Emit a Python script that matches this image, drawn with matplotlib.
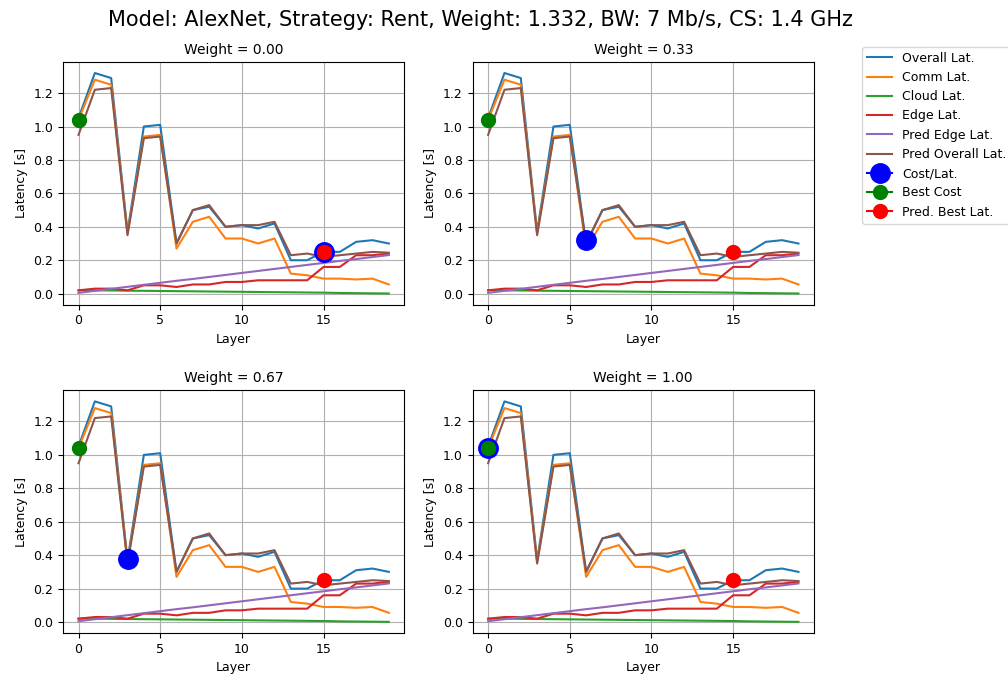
import matplotlib.pyplot as plt

# Per-layer latency profiles (AlexNet, split point = layer index)
layers = list(range(20))
overall_lat = [1.05, 1.32, 1.29, 0.37, 1.00, 1.01, 0.30, 0.50, 0.52, 0.40,
               0.41, 0.39, 0.42, 0.20, 0.20, 0.25, 0.25, 0.31, 0.32, 0.30]
comm_lat = [1.04, 1.28, 1.25, 0.36, 0.94, 0.95, 0.27, 0.43, 0.46, 0.33,
            0.33, 0.30, 0.33, 0.12, 0.11, 0.09, 0.09, 0.085, 0.09, 0.055]
cloud_lat = [0.020, 0.020, 0.019, 0.018, 0.017, 0.016, 0.015, 0.014, 0.013, 0.012,
             0.011, 0.010, 0.009, 0.008, 0.007, 0.006, 0.004, 0.003, 0.002, 0.001]
edge_lat = [0.02, 0.03, 0.03, 0.02, 0.05, 0.05, 0.04, 0.055, 0.055, 0.07,
            0.07, 0.08, 0.08, 0.08, 0.08, 0.16, 0.16, 0.23, 0.23, 0.24]
pred_edge_lat = [0.005, 0.017, 0.029, 0.041, 0.053, 0.065, 0.077, 0.088, 0.100, 0.112,
                 0.124, 0.136, 0.148, 0.160, 0.172, 0.184, 0.196, 0.207, 0.219, 0.231]
pred_overall_lat = [0.95, 1.22, 1.23, 0.35, 0.93, 0.94, 0.30, 0.50, 0.53, 0.40,
                    0.41, 0.41, 0.43, 0.23, 0.24, 0.22, 0.23, 0.24, 0.25, 0.245]

# Selected split per cost weight
weights = [0.00, 0.33, 0.67, 1.00]
cost_layer = [15, 6, 3, 0]
cost_value = [0.25, 0.32, 0.38, 1.04]
best_cost_layer = 0
best_cost_value = 1.04
pred_best_layer = 15
pred_best_value = 0.25

fig, axes = plt.subplots(2, 2, figsize=(10.08, 6.74), dpi=100)
fig.subplots_adjust(left=0.0625, right=0.8075, top=0.908, bottom=0.061,
                    wspace=0.2, hspace=0.354)

for ax, w, cl, cv in zip(axes.flat, weights, cost_layer, cost_value):
    ax.plot(layers, overall_lat, label="Overall Lat.")
    ax.plot(layers, comm_lat, label="Comm Lat.")
    ax.plot(layers, cloud_lat, label="Cloud Lat.")
    ax.plot(layers, edge_lat, label="Edge Lat.")
    ax.plot(layers, pred_edge_lat, label="Pred Edge Lat.")
    ax.plot(layers, pred_overall_lat, label="Pred Overall Lat.")
    ax.plot([cl], [cv], "o-", color="blue", markersize=14, label="Cost/Lat.")
    ax.plot([best_cost_layer], [best_cost_value], "o-", color="green",
            markersize=10, label="Best Cost")
    ax.plot([pred_best_layer], [pred_best_value], "o-", color="red",
            markersize=10, label="Pred. Best Lat.")
    ax.set_title(f"Weight = {w:.2f}", fontsize=10)
    ax.set_xlabel("Layer", fontsize=9)
    ax.set_ylabel("Latency [s]", fontsize=9)
    ax.tick_params(labelsize=9)
    ax.set_xticks([0, 5, 10, 15])
    ax.grid(True)

handles, labels = axes[0, 0].get_legend_handles_labels()
fig.legend(handles, labels, loc="upper left", bbox_to_anchor=(0.849, 0.94),
           fontsize=9)
fig.suptitle("Model: AlexNet, Strategy: Rent, Weight: 1.332, BW: 7 Mb/s, CS: 1.4 GHz",
             fontsize=15, x=0.477, y=0.985)

plt.savefig("out.png", dpi=100)
